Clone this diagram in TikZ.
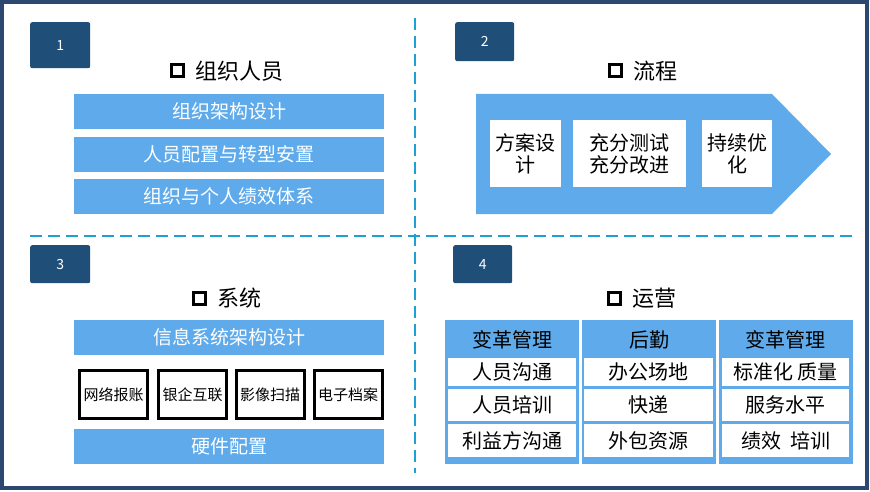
\documentclass[tikz,border=0pt]{standalone}
\usepackage{fontspec}
\setmainfont{Noto Sans CJK SC}
\usetikzlibrary{positioning}
\definecolor{barblue}{RGB}{95,170,235}
\definecolor{navy}{RGB}{31,78,121}
\definecolor{frameblue}{RGB}{44,72,112}
\definecolor{dashblue}{RGB}{30,160,210}
\tikzset{
  numbox/.style={fill=navy,rounded corners=2pt,text=white,anchor=north west,inner sep=0,font=\fontsize{14}{14}\selectfont},
  squarebox/.style={draw=black,line width=3pt,minimum size=12pt,inner sep=0},
  headtext/.style={inner sep=0,font=\fontsize{22}{22}\selectfont},
  bar/.style={fill=barblue,text=white,minimum width=310pt,minimum height=35pt,inner sep=0,anchor=north west,font=\fontsize{19}{19}\selectfont},
  stepbox/.style={fill=white,align=center,inner sep=0,anchor=north west,minimum height=67pt,font=\fontsize{20}{22}\selectfont},
  sysbox/.style={draw=black,line width=3pt,fill=white,minimum width=68pt,minimum height=48pt,inner sep=0,font=\fontsize{15}{15}\selectfont},
  colbox/.style={fill=barblue,minimum width=134pt,minimum height=144pt,anchor=north west,inner sep=0},
  cellbox/.style={fill=white,minimum width=128pt,anchor=north west,inner sep=0,font=\fontsize{20}{20}\selectfont},
  divider/.style={dashblue,line width=2pt,dash pattern=on 12pt off 6pt}
}
\begin{document}
\begin{tikzpicture}[x=1pt,y=-1pt]
\useasboundingbox (0,0) rectangle (870,492);
% frame and dividers
\draw[frameblue,line width=4pt] (2,2) rectangle (867,488);
\coordinate (hl) at (30,236);
\coordinate (hr) at (855,236);
\coordinate (vt) at (415,18);
\coordinate (vb) at (415,473);
\draw[divider] (hl) -- (hr);
\draw[divider] (vt) -- (vb);
% numbers
\node[numbox,minimum width=60pt,minimum height=46pt] (n1) at (30,22) {1};
\node[numbox,minimum width=59pt,minimum height=39pt] (n2) at (455,22) {2};
\node[numbox,minimum width=60pt,minimum height=38pt] (n3) at (30,245) {3};
\node[numbox,minimum width=59pt,minimum height=38pt] (n4) at (453,245) {4};
% titles
\node[headtext] (t1) at (239,71) {组织人员};
\node[squarebox,left=10pt of t1] (s1) {};
\node[headtext] (t2) at (655.5,71) {流程};
\node[squarebox,left=10pt of t2] (s2) {};
\node[headtext] (t3) at (239,298) {系统};
\node[squarebox,left=10pt of t3] (s3) {};
\node[headtext] (t4) at (654.5,298) {运营};
\node[squarebox,left=10pt of t4] (s4) {};
% 1 organisation
\node[bar] (o1) at (74,94) {组织架构设计};
\node[bar] (o2) at (74,137) {人员配置与转型安置};
\node[bar] (o3) at (74,179) {组织与个人绩效体系};
% 2 process
\fill[barblue] (476,94) -- (772,94) -- (831,154) -- (772,214) -- (476,214) -- cycle;
\node[stepbox,minimum width=71pt] (p1) at (490,120) {方案设\\计};
\node[stepbox,minimum width=113pt] (p2) at (573,120) {充分测试\\充分改进};
\node[stepbox,minimum width=70pt] (p3) at (702,120) {持续优\\化};
% 3 system
\node[bar] (y1) at (74,320) {信息系统架构设计};
\node[sysbox] (y2) at (113.5,394.5) {网络报账};
\node[sysbox] (y3) at (192.5,394.5) {银企互联};
\node[sysbox] (y4) at (270,394.5) {影像扫描};
\node[sysbox] (y5) at (348,394.5) {电子档案};
\node[bar] (y6) at (74,429) {硬件配置};
% 4 operation
\node[colbox] (c1) at (445,320) {};
\node[colbox] (c2) at (582,320) {};
\node[colbox] (c3) at (719,320) {};
\node[headtext,font=\fontsize{20}{20}\selectfont] (h1) at (512,340) {变革管理};
\node[headtext,font=\fontsize{20}{20}\selectfont] (h2) at (649,340) {后勤};
\node[headtext,font=\fontsize{20}{20}\selectfont] (h3) at (785.5,340) {变革管理};
\node[cellbox,minimum height=28pt] (a1) at (448,358) {人员沟通};
\node[cellbox,minimum height=32pt] (a2) at (448,389) {人员培训};
\node[cellbox,minimum height=33pt] (a3) at (448,424) {利益方沟通};
\node[cellbox,minimum height=28pt,minimum width=129pt] (b1) at (584,358) {办公场地};
\node[cellbox,minimum height=32pt,minimum width=129pt] (b2) at (584,389) {快递};
\node[cellbox,minimum height=33pt,minimum width=129pt] (b3) at (584,424) {外包资源};
\node[cellbox,minimum height=28pt,minimum width=127pt] (d1) at (722,358) {标准化 质量};
\node[cellbox,minimum height=32pt,minimum width=127pt] (d2) at (722,389) {服务水平};
\node[cellbox,minimum height=33pt,minimum width=127pt] (d3) at (722,424) {绩效\ \ 培训};
\end{tikzpicture}
\end{document}
